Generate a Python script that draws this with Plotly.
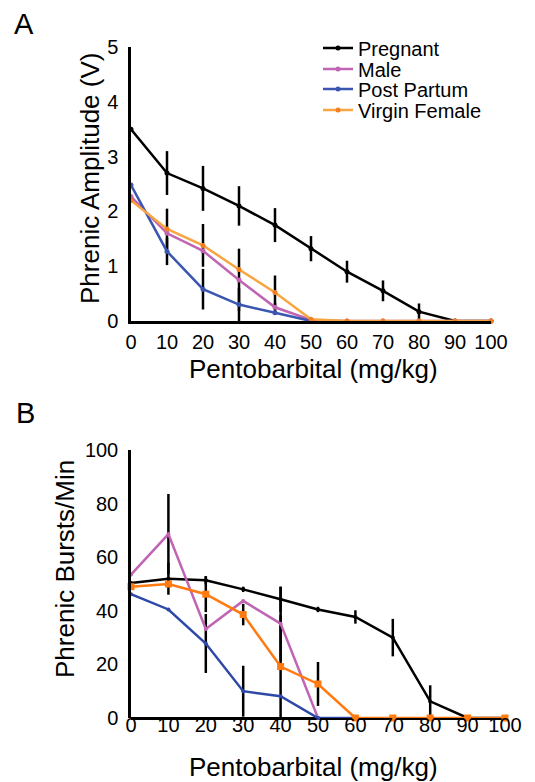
import plotly.graph_objects as go

doses = [0, 10, 20, 30, 40, 50, 60, 70, 80, 90, 100]

# Panel A - phrenic amplitude (V)
amp_pregnant = [3.5, 2.7, 2.42, 2.1, 1.75, 1.32, 0.9, 0.55, 0.17, 0.0, 0.0]
amp_pregnant_err = [0, 0.4, 0.41, 0.36, 0.31, 0.23, 0.2, 0.19, 0.15, 0, 0]
amp_male = [2.27, 1.6, 1.28, 0.75, 0.25, 0.02, 0, 0, 0, 0, 0]
amp_male_err = [0, 0, 0, 0.57, 0.08, 0, 0, 0, 0, 0, 0]
amp_post = [2.48, 1.27, 0.58, 0.3, 0.15, 0.0]
amp_post_err = [0, 0.25, 0.37, 0.3, 0, 0]
amp_virgin = [2.2, 1.68, 1.38, 0.94, 0.52, 0.03, 0, 0, 0, 0, 0]
amp_virgin_err = [0, 0.37, 0.39, 0, 0.31, 0, 0, 0, 0, 0, 0]

# Panel B - phrenic bursts/min
bpm_pregnant = [50.4, 52, 51.4, 48, 44.3, 40.5, 37.7, 30, 6.2, 0, 0]
bpm_pregnant_err = [0, 6, 1.5, 1, 4.7, 1, 2.5, 7, 6, 0, 0]
bpm_male = [53.5, 68.6, 33.2, 43.7, 35.2, 0]
bpm_male_err = [0, 15, 0, 0, 13.8, 0]
bpm_post = [46.2, 40.5, 27.8, 10, 8.1, 0, 0]
bpm_post_err = [0, 0, 11, 9.5, 0, 0, 0]
bpm_virgin = [49, 50, 46.2, 38.6, 19.2, 12.7, 0, 0, 0, 0, 0]
bpm_virgin_err = [0, 0, 6.7, 4, 19.2, 8.2, 0, 0, 0, 0, 0]

names = ["Pregnant", "Male", "Post Partum", "Virgin Female"]
colors_a = ["#000000", "#c064b4", "#3a56b0", "#f7a640"]
colors_b = ["#000000", "#c064b4", "#2e48a8", "#ff7a10"]

FONT = "Liberation Sans, Arial, sans-serif"

fig = go.Figure()

series_a = [(amp_pregnant, amp_pregnant_err), (amp_male, amp_male_err),
            (amp_post, amp_post_err), (amp_virgin, amp_virgin_err)]
series_b = [(bpm_pregnant, bpm_pregnant_err), (bpm_male, bpm_male_err),
            (bpm_post, bpm_post_err), (bpm_virgin, bpm_virgin_err)]

# error bars first (black), then the coloured lines on top
for vals, err in series_a:
    fig.add_trace(go.Scatter(
        x=doses[:len(vals)], y=vals, mode="markers",
        marker=dict(size=1, color="rgba(0,0,0,0)"),
        error_y=dict(type="data", array=err, color="black", thickness=2.5, width=0),
        showlegend=False, hoverinfo="skip", xaxis="x", yaxis="y", cliponaxis=False))
for vals, err in series_b:
    fig.add_trace(go.Scatter(
        x=doses[:len(vals)], y=vals, mode="markers",
        marker=dict(size=1, color="rgba(0,0,0,0)"),
        error_y=dict(type="data", array=err, color="black", thickness=2.5, width=0),
        showlegend=False, hoverinfo="skip", xaxis="x2", yaxis="y2", cliponaxis=False))

# one legend per entry so the rows can sit as tightly as in the original
legend_ids = ["legend", "legend2", "legend3", "legend4"]
for k, (vals, err) in enumerate(series_a):
    fig.add_trace(go.Scatter(
        x=doses[:len(vals)], y=vals, mode="lines+markers", name=names[k],
        line=dict(color=colors_a[k], width=2.5),
        marker=dict(size=5, color=colors_a[k] if k != 3 else "#f47f20"),
        legend=legend_ids[k], xaxis="x", yaxis="y", cliponaxis=False))
for k, (vals, err) in enumerate(series_b):
    fig.add_trace(go.Scatter(
        x=doses[:len(vals)], y=vals, mode="lines+markers", name=names[k],
        line=dict(color=colors_b[k], width=2.5),
        marker=dict(size=7 if k == 3 else 4, color=colors_b[k],
                    symbol="square" if k == 3 else "circle"),
        showlegend=False, xaxis="x2", yaxis="y2", cliponaxis=False))

W, H = 535, 782
axis_common = dict(showline=True, linecolor="black", linewidth=2.5, showgrid=False,
                   zeroline=False, ticks="", automargin=False,
                   tickfont=dict(size=20, color="black"))

legend_rows = [48, 69, 89, 110]
legends = {}
for lid, row in zip(legend_ids, legend_rows):
    legends[lid] = dict(x=318 / W, y=1 - row / H, xanchor="left", yanchor="middle",
                        font=dict(size=20, color="black"), bgcolor="rgba(0,0,0,0)",
                        itemwidth=30)

# panel B: tick labels sit tight under the axis, so the x axis is free-floating a
# few px up (labels only) and the bottom line comes from the y zero line
fig.update_layout(
    width=W, height=H,
    margin=dict(l=0, r=0, t=0, b=0),
    paper_bgcolor="white", plot_bgcolor="white",
    font=dict(family=FONT, color="black"),
    xaxis=dict(domain=[131 / W, 491 / W], range=[0, 100], tickvals=doses,
               anchor="y", ticklabelstandoff=1, **axis_common),
    yaxis=dict(domain=[1 - 321 / H, 1 - 47 / H], range=[0, 5], tickvals=[0, 1, 2, 3, 4, 5],
               anchor="x", ticklabelstandoff=6, **axis_common),
    xaxis2=dict(domain=[131 / W, 505 / W], range=[0, 100], tickvals=doses,
                anchor="free", position=1 - 711 / H, showline=False, showgrid=False,
                zeroline=False, ticks="", automargin=False,
                tickfont=dict(size=20, color="black")),
    yaxis2=dict(domain=[1 - 718 / H, 1 - 450 / H], range=[0, 100],
                tickvals=[0, 20, 40, 60, 80, 100],
                anchor="x2", ticklabelstandoff=6,
                showline=True, linecolor="black", linewidth=2.5, showgrid=False,
                zeroline=True, zerolinecolor="black", zerolinewidth=2.5,
                ticks="", automargin=False, tickfont=dict(size=20, color="black")),
    annotations=[
        dict(text="A", x=24 / W, y=1 - 24 / H, xref="paper", yref="paper",
             showarrow=False, xanchor="center", yanchor="middle", font=dict(size=29)),
        dict(text="B", x=25 / W, y=1 - 413 / H, xref="paper", yref="paper",
             showarrow=False, xanchor="center", yanchor="middle", font=dict(size=29)),
        dict(text="Pentobarbital (mg/kg)", x=313 / W, y=1 - 369 / H, xref="paper",
             yref="paper", showarrow=False, xanchor="center", yanchor="middle",
             font=dict(size=26)),
        dict(text="Pentobarbital (mg/kg)", x=313 / W, y=1 - 767 / H, xref="paper",
             yref="paper", showarrow=False, xanchor="center", yanchor="middle",
             font=dict(size=26)),
        dict(text="Phrenic Amplitude (V)", x=90 / W, y=1 - 179 / H, xref="paper",
             yref="paper", showarrow=False, xanchor="center", yanchor="middle",
             textangle=-90, font=dict(size=26)),
        dict(text="Phrenic Bursts/Min", x=65 / W, y=1 - 569 / H, xref="paper",
             yref="paper", showarrow=False, xanchor="center", yanchor="middle",
             textangle=-90, font=dict(size=26)),
    ],
    **legends,
)

# the page's default body margin would shift the figure by 8 px
fig.write_html("out.html", config={"displayModeBar": False},
               post_script="document.body.style.margin='0';document.body.style.padding='0';")
